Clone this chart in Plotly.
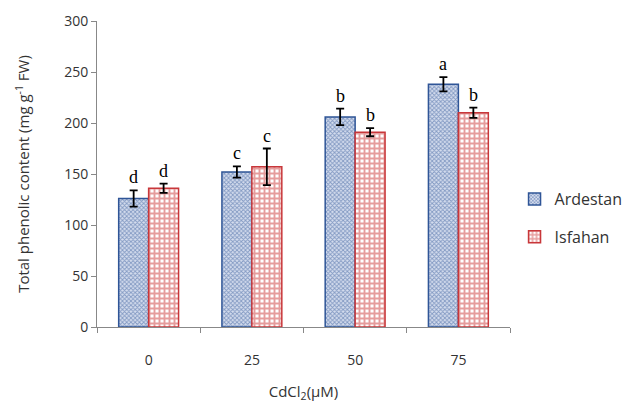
import plotly.graph_objects as go

categories = ["0", "25", "50", "75"]
ardestan = [126, 152, 206, 238]
ardestan_err = [8, 5.5, 8, 7]
isfahan = [136, 157, 191, 210]
isfahan_err = [4.5, 18, 4, 5]
ardestan_letters = ["d", "c", "b", "a"]
isfahan_letters = ["d", "c", "b", "b"]

fig = go.Figure()
fig.add_trace(go.Bar(
    name="Ardestan", x=categories, y=ardestan, legendgroup="g1",
    error_y=dict(type="data", array=ardestan_err, color="black", thickness=1.8, width=4),
    marker=dict(color="white", line=dict(color="#2F5597", width=1.5),
                pattern=dict(shape="x", fgcolor="#2F5597", bgcolor="#D5DDEE", size=3, solidity=0.5)),
))
fig.add_trace(go.Bar(
    name="Isfahan", x=categories, y=isfahan, legendgroup="g2",
    error_y=dict(type="data", array=isfahan_err, color="black", thickness=1.8, width=4),
    marker=dict(color="white", line=dict(color="#C8373A", width=1.5),
                pattern=dict(shape="+", fgcolor="#CC3A3A", bgcolor="white", size=5, solidity=0.62)),
))

for i, c in enumerate(categories):
    fig.add_annotation(x=i, y=ardestan[i] + ardestan_err[i], text=ardestan_letters[i],
                       xref="x", yref="y", showarrow=False, yanchor="bottom", xshift=-15, yshift=1,
                       font=dict(family="Liberation Serif", size=18, color="black"))
    fig.add_annotation(x=i, y=isfahan[i] + isfahan_err[i], text=isfahan_letters[i],
                       xref="x", yref="y", showarrow=False, yanchor="bottom", xshift=15, yshift=1,
                       font=dict(family="Liberation Serif", size=18, color="black"))

fig.update_layout(
    width=616, height=395,
    margin=dict(l=89, r=114, t=13, b=76, autoexpand=False),
    paper_bgcolor="white", plot_bgcolor="white",
    barmode="group", bargap=0.42, bargroupgap=0,
    font=dict(family="Open Sans", size=14, color="#333333"),
    legend=dict(x=1.011, y=0.356, xanchor="left", yanchor="middle",
                font=dict(family="Open Sans", size=16, color="#333333"),
                tracegroupgap=14, itemwidth=30),
    xaxis=dict(type="category", tickson="boundaries", ticks="outside", ticklen=5,
               tickcolor="#888888", showline=True, linecolor="#888888", linewidth=1,
               ticklabelstandoff=20, showgrid=False, range=[-0.5, 3.5], automargin=False,
               tickfont=dict(size=14, color="#333333"),
               title=dict(text="CdCl<sub>2</sub>(μM)", standoff=25,
                          font=dict(family="Open Sans", size=15, color="#333333"))),
    yaxis=dict(range=[0, 300], dtick=50, ticks="outside", ticklen=5,
               tickcolor="#888888", showline=True, linecolor="#888888", linewidth=1,
               showgrid=False, zeroline=False, automargin=False,
               tickfont=dict(size=14, color="#333333"),
               title=dict(text="Total phenolic content (mg g<sup>-1</sup> FW)", standoff=30,
                          font=dict(family="Open Sans", size=15, color="#333333"))),
)

fig.write_html("out.html")
